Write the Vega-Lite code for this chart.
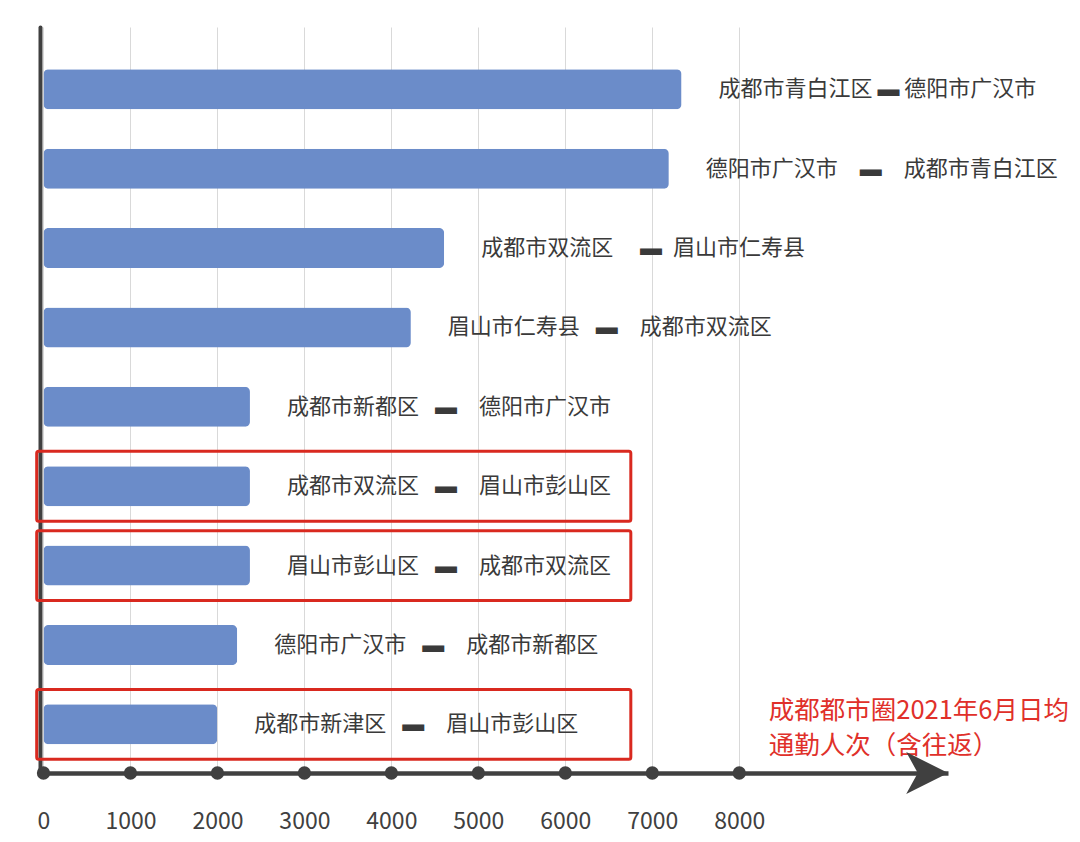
{
  "$schema": "https://vega.github.io/schema/vega-lite/v6.json",
  "width": 908,
  "height": 746,
  "autosize": {"type": "none"},
  "padding": {"left": 40, "top": 27, "right": 132, "bottom": 69},
  "background": "white",
  "config": {"view": {"stroke": null}, "font": "Noto Sans CJK SC"},
  "data": {
    "values": [
      {"from": "成都市青白江区", "to": "德阳市广汉市", "label": "成都市青白江区 ▬ 德阳市广汉市", "value": 7336, "boxed": false},
      {"from": "德阳市广汉市", "to": "成都市青白江区", "label": "德阳市广汉市\u2003▬\u2003成都市青白江区", "value": 7190, "boxed": false},
      {"from": "成都市双流区", "to": "眉山市仁寿县", "label": "成都市双流区\u2003 ▬\u2002眉山市仁寿县", "value": 4607, "boxed": false},
      {"from": "眉山市仁寿县", "to": "成都市双流区", "label": "眉山市仁寿县\u2002 ▬\u2003成都市双流区", "value": 4224, "boxed": false},
      {"from": "成都市新都区", "to": "德阳市广汉市", "label": "成都市新都区\u2002 ▬\u2003德阳市广汉市", "value": 2374, "boxed": false},
      {"from": "成都市双流区", "to": "眉山市彭山区", "label": "成都市双流区\u2002 ▬\u2003眉山市彭山区", "value": 2374, "boxed": true},
      {"from": "眉山市彭山区", "to": "成都市双流区", "label": "眉山市彭山区\u2002 ▬\u2003成都市双流区", "value": 2374, "boxed": true},
      {"from": "德阳市广汉市", "to": "成都市新都区", "label": "德阳市广汉市\u2002 ▬\u2003成都市新都区", "value": 2228, "boxed": false},
      {"from": "成都市新津区", "to": "眉山市彭山区", "label": "成都市新津区\u2002 ▬\u2003眉山市彭山区", "value": 1998, "boxed": true}
    ]
  },
  "layer": [
    {
      "mark": {"type": "bar", "color": "#6b8cc9", "cornerRadius": 5, "height": {"band": 0.504}},
      "encoding": {
        "y": {
          "field": "label", "type": "nominal", "sort": null,
          "scale": {"paddingInner": 0, "paddingOuter": 0.199, "align": 0.716},
          "axis": {"labels": false, "ticks": false, "grid": false, "title": null, "domainColor": "#404040", "domainWidth": 4, "domainCap": "round"}
        },
        "x": {
          "field": "value", "type": "quantitative",
          "scale": {"domain": [-40, 10400], "nice": false, "zero": false},
          "axis": {
            "values": [0, 1000, 2000, 3000, 4000, 5000, 6000, 7000, 8000],
            "format": "d",
            "grid": true, "gridColor": "#d9d9d9", "gridWidth": 1,
            "ticks": false, "domainColor": "#404040", "domainWidth": 4.5,
            "labelFontSize": 23, "labelColor": "#404040", "labelPadding": 37,
            "labelFlush": false, "title": null
          }
        }
      }
    },
    {
      "mark": {"type": "text", "align": "left", "baseline": "middle", "dx": 37, "fontSize": 22, "color": "#3a3a3a"},
      "encoding": {
        "y": {"field": "label", "type": "nominal", "sort": null},
        "x": {"field": "value", "type": "quantitative"},
        "text": {"field": "label"}
      }
    },
    {
      "transform": [{"filter": "datum.boxed"}],
      "mark": {"type": "bar", "fill": "transparent", "stroke": "#d9291f", "strokeWidth": 3, "cornerRadius": 2, "height": {"band": 0.88}},
      "encoding": {
        "y": {"field": "label", "type": "nominal", "sort": null},
        "x": {"datum": -78},
        "x2": {"datum": 6753}
      }
    },
    {
      "transform": [{"filter": {"field": "from", "equal": "成都市新津区"}}],
      "mark": {"type": "text", "text": ["成都都市圈2021年6月日均", "通勤人次（含往返）"], "align": "left", "baseline": "middle", "fontSize": 25.5, "lineHeight": 35, "dy": -13, "color": "#e0302a"},
      "encoding": {
        "y": {"field": "label", "type": "nominal", "sort": null},
        "x": {"datum": 8339}
      }
    },
    {
      "data": {"values": [{"tick": 0}, {"tick": 1000}, {"tick": 2000}, {"tick": 3000}, {"tick": 4000}, {"tick": 5000}, {"tick": 6000}, {"tick": 7000}, {"tick": 8000}]},
      "mark": {"type": "circle", "color": "#404040", "size": 177, "opacity": 1},
      "encoding": {
        "x": {"field": "tick", "type": "quantitative"},
        "y": {"value": "height"}
      }
    },
    {
      "data": {"values": [{"tip": 10161}]},
      "mark": {"type": "point", "shape": "M1,0L-1,-1L-0.45,0L-1,1Z", "filled": true, "color": "#404040", "size": 1764, "opacity": 1},
      "encoding": {
        "x": {"field": "tip", "type": "quantitative"},
        "y": {"value": "height"}
      }
    }
  ]
}
